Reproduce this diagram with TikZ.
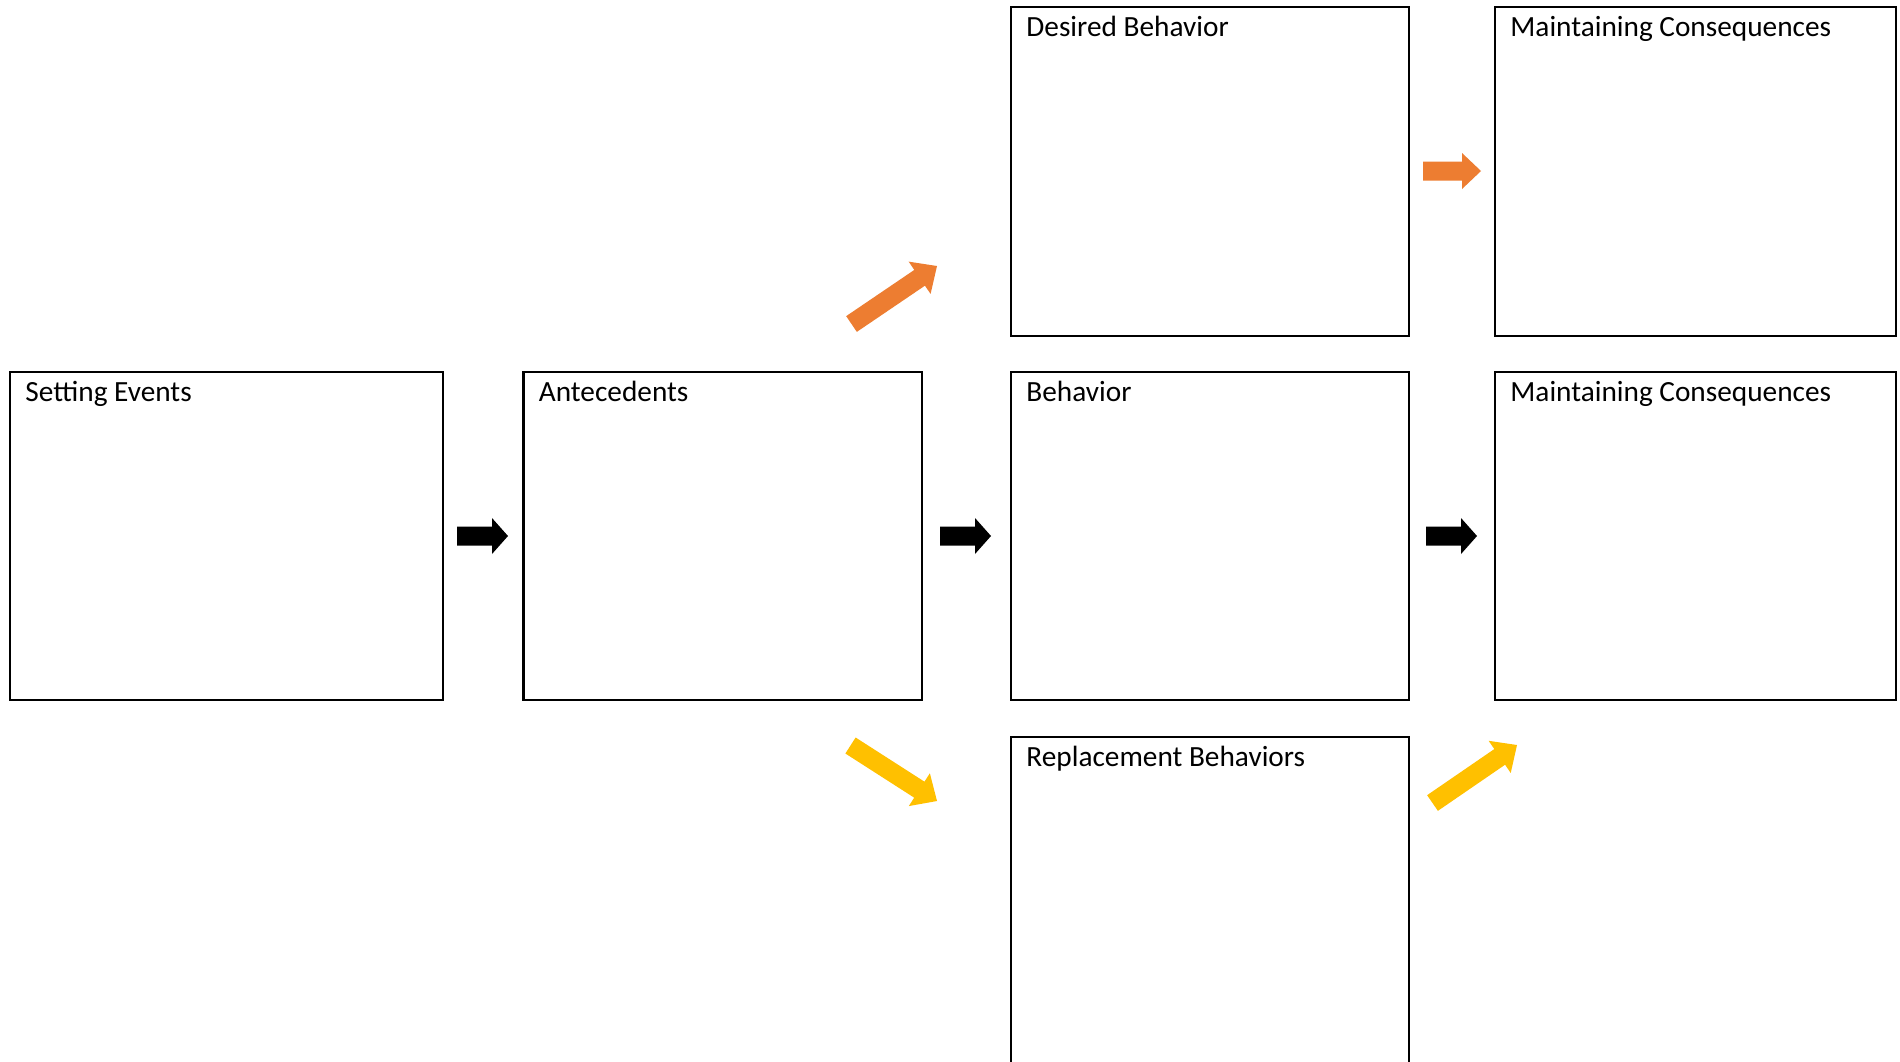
\documentclass[tikz,border=0pt]{standalone}
\usepackage{fontspec}
\setmainfont{Carlito}
\usetikzlibrary{calc}
\definecolor{aorange}{HTML}{ED7D31}
\definecolor{ayellow}{HTML}{FFC000}
% #1 start coordinate, #2 end coordinate, #3 colour, #4 head length, #5 head half-width
\newcommand\blockarrow[5]{%
  \coordinate (#1-h) at ($(#2)!#4!(#1)$);
  \fill[#3] ($(#1)!4.75pt!90:(#2)$) -- ($(#1-h)!4.75pt!90:(#2)$) -- ($(#1-h)!#5!90:(#2)$)
    -- (#2) -- ($(#1-h)!#5!-90:(#2)$) -- ($(#1-h)!4.75pt!-90:(#2)$) -- ($(#1)!4.75pt!-90:(#2)$) -- cycle;
}
\begin{document}
\begin{tikzpicture}[x=0.5pt,y=-0.5pt,
  box/.style={draw=black, line width=1.4pt, rectangle, inner sep=0pt, outer sep=0pt, anchor=north west},
  lbl/.style={anchor=base west, inner sep=0pt, font=\fontsize{14.65}{17}\selectfont}]
\useasboundingbox (0,0) rectangle (1900,1061);
\clip (0,0) rectangle (1900,1061);
\fill[white] (0,0) rectangle (1900,1061);

% boxes
\node[box, minimum width=216.5pt, minimum height=164pt] (se) at (10,372) {};
\node[box, minimum width=199.25pt, minimum height=164pt] (an) at (523.5,372) {};
\node[box, minimum width=199pt, minimum height=164pt] (be) at (1011,372) {};
\node[box, minimum width=200.5pt, minimum height=164pt] (mc2) at (1495,372) {};
\node[box, minimum width=199pt, minimum height=164.5pt] (db) at (1011,7) {};
\node[box, minimum width=200.5pt, minimum height=164.5pt] (mc1) at (1495,7) {};
\node[box, minimum width=199pt, minimum height=200pt] (rb) at (1011,737) {};

% labels
\node[lbl] (se-l) at ($(se.north west)+(15,29.5)$) {Setting Events};
\node[lbl] (an-l) at ($(an.north west)+(15,29.5)$) {Antecedents};
\node[lbl] (be-l) at ($(be.north west)+(15,29.5)$) {Behavior};
\node[lbl] (mc2-l) at ($(mc2.north west)+(15,29.5)$) {Maintaining Consequences};
\node[lbl] (db-l) at ($(db.north west)+(15,29.5)$) {Desired Behavior};
\node[lbl] (mc1-l) at ($(mc1.north west)+(15,29.5)$) {Maintaining Consequences};
\node[lbl] (rb-l) at ($(rb.north west)+(15,29.5)$) {Replacement Behaviors};

% arrows
\coordinate (k1) at (457,536);   \coordinate (k1e) at (508,536);
\coordinate (k2) at (940,536);   \coordinate (k2e) at (991,536);
\coordinate (k3) at (1426,536);  \coordinate (k3e) at (1477,536);
\coordinate (o1) at (1423,171);  \coordinate (o1e) at (1481,171);
\coordinate (o2) at (851.5,324); \coordinate (o2e) at (937,266);
\coordinate (y1) at (850.5,745.5); \coordinate (y1e) at (937,801);
\coordinate (y2) at (1432.5,803); \coordinate (y2e) at (1517,745);

\blockarrow{k1}{k1e}{black}{8pt}{9pt}
\blockarrow{k2}{k2e}{black}{8pt}{9pt}
\blockarrow{k3}{k3e}{black}{8pt}{9pt}
\blockarrow{o1}{o1e}{aorange}{9.5pt}{9pt}
\blockarrow{o2}{o2e}{aorange}{10.5pt}{9.75pt}
\blockarrow{y1}{y1e}{ayellow}{10.5pt}{9.75pt}
\blockarrow{y2}{y2e}{ayellow}{10.5pt}{9.75pt}
\end{tikzpicture}
\end{document}
